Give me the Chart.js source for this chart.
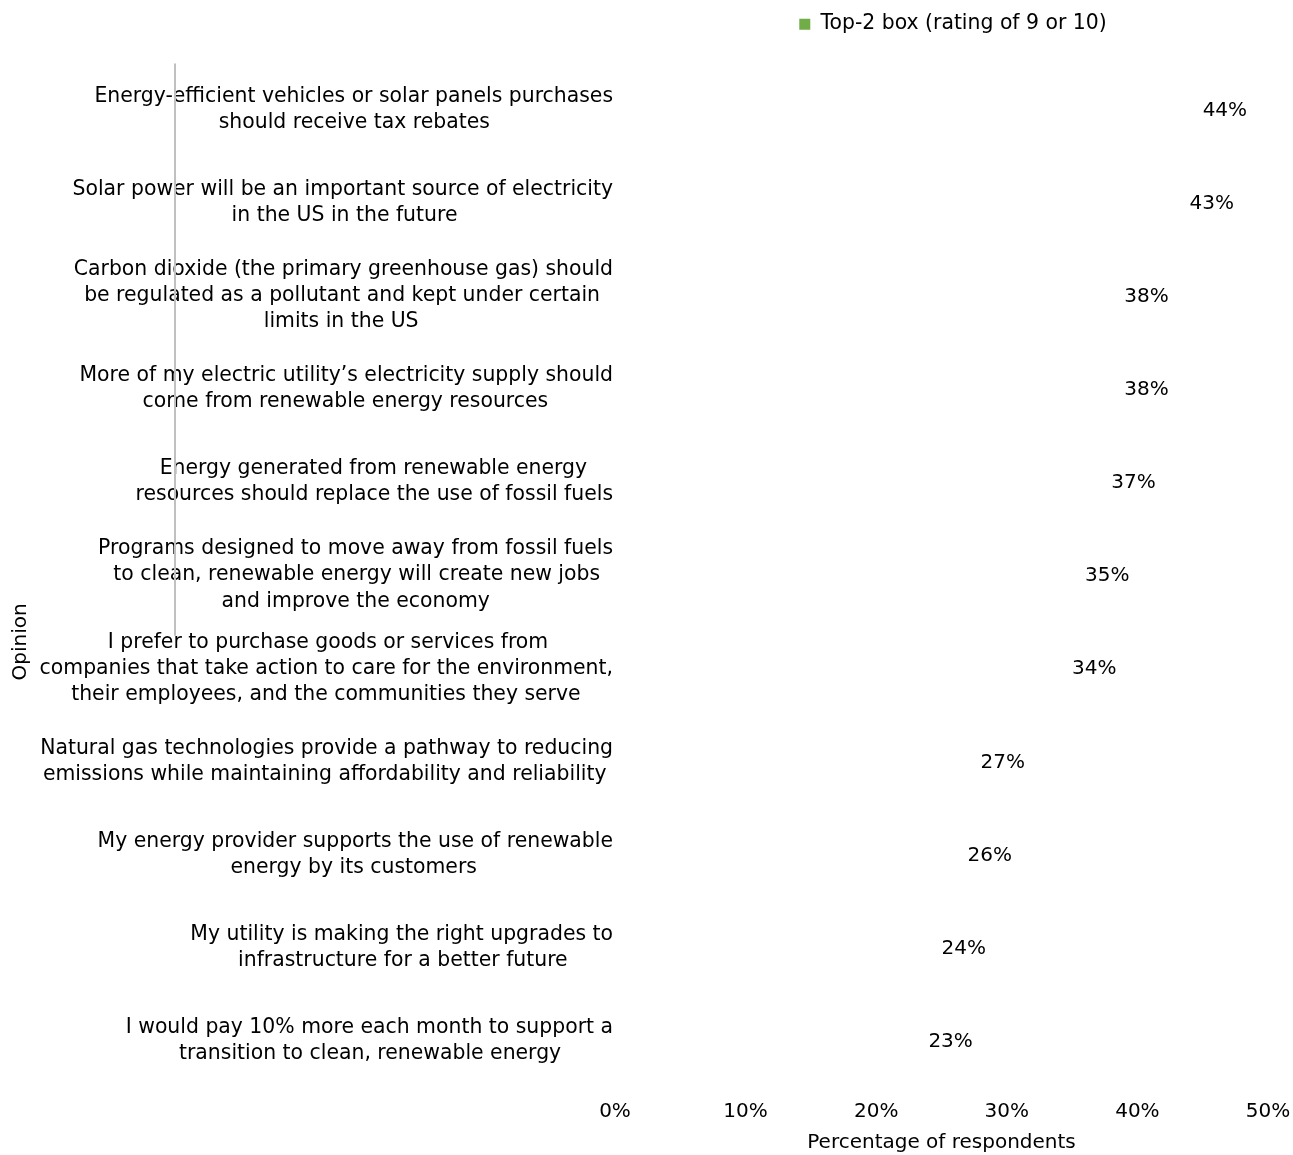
<!DOCTYPE html>
<html>
<head>
<meta charset="utf-8">
<title>Top-2 box opinions</title>
<script src="https://cdn.jsdelivr.net/npm/chart.js@4/dist/chart.umd.min.js"></script>
<style>
  html, body { margin: 0; padding: 0; background: #ffffff; }
  canvas { display: block; }
</style>
</head>
<body>
<canvas id="chart" width="1293" height="1155"></canvas>
<script>
// Opinion statements (one array of lines per category)
const opinions = [
  ['Energy-efficient vehicles or solar panels purchases', 'should receive tax rebates'],
  ['Solar power will be an important source of electricity', 'in the US in the future'],
  ['Carbon dioxide (the primary greenhouse gas) should', 'be regulated as a pollutant and kept under certain', 'limits in the US'],
  ['More of my electric utility\u2019s electricity supply should', 'come from renewable energy resources'],
  ['Energy generated from renewable energy', 'resources should replace the use of fossil fuels'],
  ['Programs designed to move away from fossil fuels', 'to clean, renewable energy will create new jobs', 'and improve the economy'],
  ['I prefer to purchase goods or services from', 'companies that take action to care for the environment,', 'their employees, and the communities they serve'],
  ['Natural gas technologies provide a pathway to reducing', 'emissions while maintaining affordability and reliability'],
  ['My energy provider supports the use of renewable', 'energy by its customers'],
  ['My utility is making the right upgrades to', 'infrastructure for a better future'],
  ['I would pay 10% more each month to support a', 'transition to clean, renewable energy']
];

// Share of respondents rating 9 or 10
const top2Box = [44, 43, 38, 38, 37, 35, 34, 27, 26, 24, 23];

// Percentage axis ticks
const xTicks = [0, 10, 20, 30, 40, 50];

const seriesName = 'Top-2 box (rating of 9 or 10)';
const seriesColor = '#70ad47';
const FONT_FAMILY = '"DejaVu Sans", "Liberation Sans", sans-serif';
const FONT_SIZE = 20;
const LABEL_SIZE = 20.4;

Chart.defaults.font.family = FONT_FAMILY;
Chart.defaults.font.size = FONT_SIZE;
Chart.defaults.color = '#000000';

// Pad shorter lines so right-aligned multi-line labels read as centred blocks
const measureCtx = document.createElement('canvas').getContext('2d');
function centerLines(lines) {
  measureCtx.font = LABEL_SIZE + 'px ' + FONT_FAMILY;
  const widths = lines.map(l => measureCtx.measureText(l).width);
  const maxW = Math.max(...widths);
  const space = measureCtx.measureText(' ').width;
  return lines.map((l, i) => l + ' '.repeat(Math.round((maxW - widths[i]) / 2 / space)));
}

// Value labels just past the end of each bar
const valueLabels = {
  id: 'valueLabels',
  afterDatasetsDraw(chart) {
    const ctx = chart.ctx;
    const meta = chart.getDatasetMeta(0);
    const values = chart.data.datasets[0].data;
    ctx.save();
    ctx.font = FONT_SIZE + 'px ' + FONT_FAMILY;
    ctx.fillStyle = '#000000';
    ctx.textAlign = 'left';
    ctx.textBaseline = 'middle';
    meta.data.forEach((bar, i) => {
      ctx.fillText(values[i] + '%', bar.x + 13, bar.y + 1);
    });
    ctx.restore();
  }
};

// Thin grey rule through the label column
const dividerRule = {
  id: 'dividerRule',
  afterDraw(chart, args, opts) {
    const y = chart.scales.y;
    const ctx = chart.ctx;
    ctx.save();
    ctx.strokeStyle = opts.color;
    ctx.lineWidth = opts.width;
    ctx.beginPath();
    ctx.moveTo(opts.x, chart.chartArea.top);
    ctx.lineTo(opts.x, y.getPixelForValue(opts.toIndex));
    ctx.stroke();
    ctx.restore();
  }
};

// Extra space under the legend, and a nudge of the legend row to the right
const legendPlacement = {
  id: 'legendPlacement',
  beforeInit(chart) {
    const origFit = chart.legend.fit;
    chart.legend.fit = function () {
      origFit.call(this);
      this.height += 19;
    };
  },
  afterLayout(chart, args, opts) {
    chart.legend.left += opts.shift;
  }
};

new Chart(document.getElementById('chart'), {
  type: 'bar',
  data: {
    labels: opinions,
    datasets: [{
      label: seriesName,
      data: top2Box,
      backgroundColor: 'rgba(0,0,0,0)',
      borderWidth: 0
    }]
  },
  options: {
    indexAxis: 'y',
    responsive: false,
    animation: false,
    layout: { padding: { top: 4, right: 25, bottom: 0, left: 0 } },
    plugins: {
      tooltip: { enabled: false },
      legend: {
        position: 'top',
        fullSize: false,
        align: 'center',
        labels: {
          boxWidth: 11,
          boxHeight: 11,
          padding: 10,
          color: '#000000',
          font: { size: LABEL_SIZE },
          generateLabels(chart) {
            return Chart.defaults.plugins.legend.labels.generateLabels(chart).map(item => ({
              ...item, fillStyle: seriesColor, strokeStyle: seriesColor, lineWidth: 0
            }));
          }
        }
      },
      legendPlacement: { shift: 23 },
      dividerRule: { x: 175, toIndex: 5.65, color: '#c0c0c0', width: 2 }
    },
    scales: {
      x: {
        type: 'linear',
        min: xTicks[0],
        max: xTicks[xTicks.length - 1],
        grid: { display: false, drawTicks: true, tickLength: 11 },
        border: { display: false },
        afterBuildTicks(scale) { scale.ticks = xTicks.map(v => ({ value: v })); },
        ticks: {
          padding: 2,
          font: { size: FONT_SIZE, lineHeight: 1.2 },
          callback: v => v + '%'
        },
        title: {
          display: true,
          text: 'Percentage of respondents',
          font: { size: FONT_SIZE, lineHeight: 1.2 },
          padding: { top: 5, bottom: 0 }
        }
      },
      y: {
        type: 'category',
        grid: { display: false, drawTicks: false },
        border: { display: false },
        afterFit(scale) { scale.width = 615; },
        ticks: {
          padding: 2,
          autoSkip: false,
          font: { size: LABEL_SIZE, lineHeight: 1.275 },
          callback(value) { return centerLines(this.getLabelForValue(value)); }
        },
        title: {
          display: true,
          text: 'Opinion' + ' '.repeat(21),
          font: { size: FONT_SIZE, lineHeight: 1.2 },
          padding: { top: 9, bottom: 0 }
        }
      }
    }
  },
  plugins: [valueLabels, dividerRule, legendPlacement]
});
</script>
</body>
</html>
